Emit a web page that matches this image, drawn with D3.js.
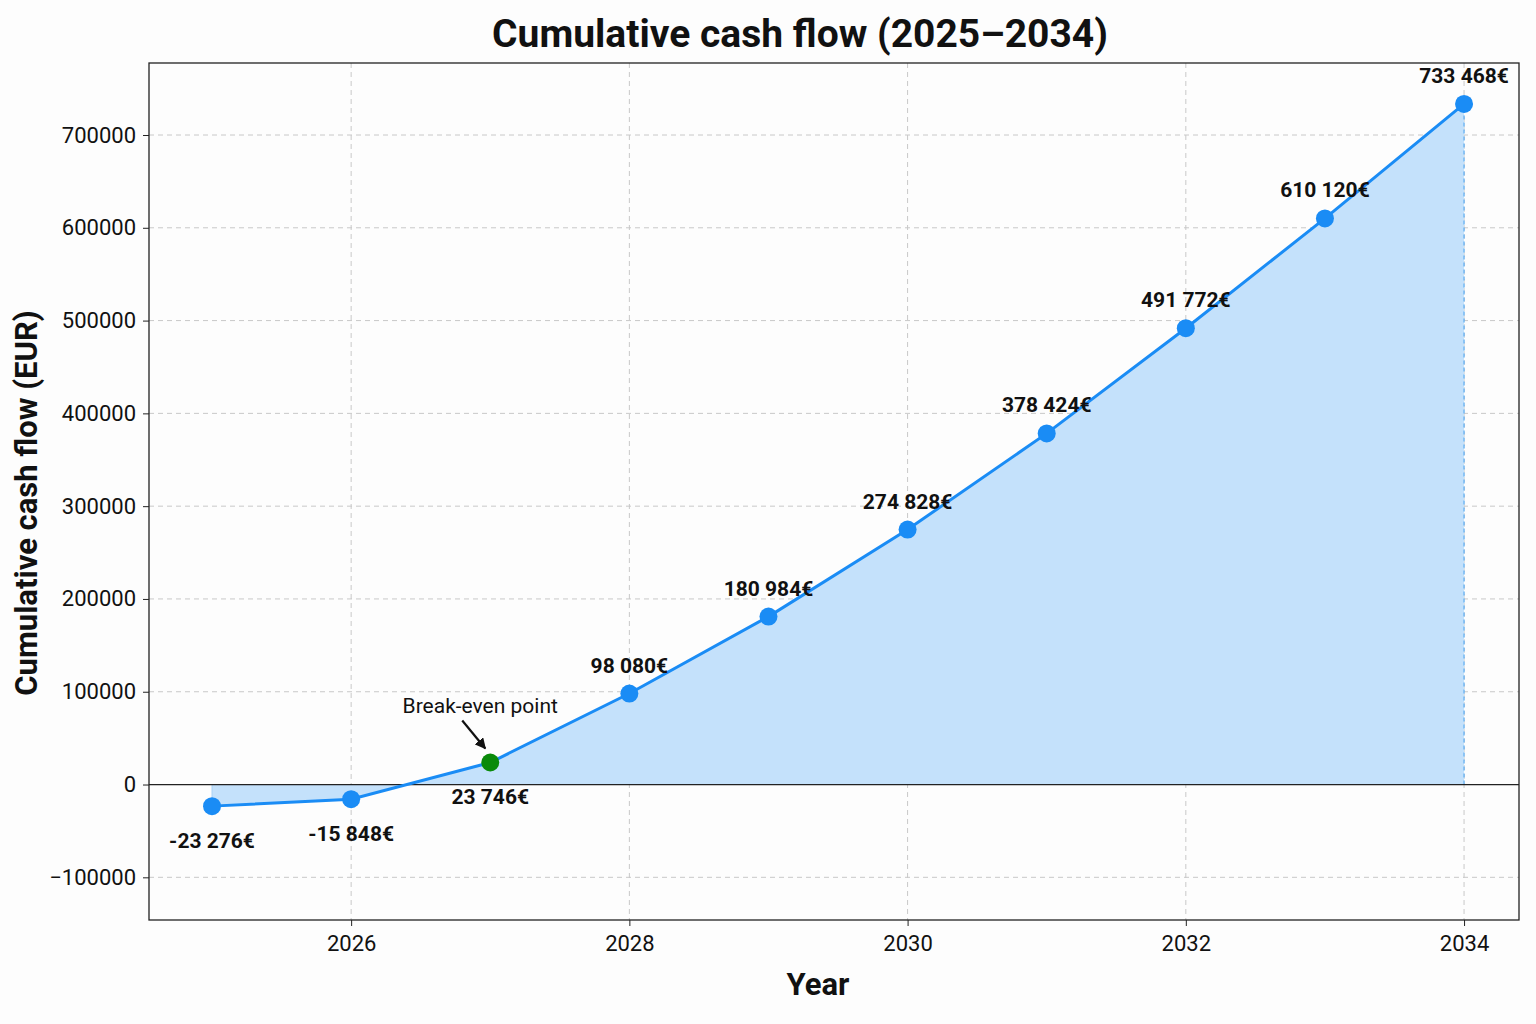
<!DOCTYPE html>
<html>
<head>
<meta charset="utf-8">
<script src="https://cdn.jsdelivr.net/npm/d3@7"></script>
<style>
  body { margin: 0; background: #fdfdfd; }
  text { font-family: Roboto, "DejaVu Sans", sans-serif; }
</style>
</head>
<body>
<svg id="chart"></svg>
<script>
// data
const years = [2025, 2026, 2027, 2028, 2029, 2030, 2031, 2032, 2033, 2034];
const cumulative = [-23276, -15848, 23746, 98080, 180984, 274828, 378424, 491772, 610120, 733468];
const labels = ["-23 276€", "-15 848€", "23 746€", "98 080€", "180 984€", "274 828€", "378 424€", "491 772€", "610 120€", "733 468€"];
const xTicks = [2026, 2028, 2030, 2032, 2034];
const yTicks = [-100000, 0, 100000, 200000, 300000, 400000, 500000, 600000, 700000];
const breakEvenYear = 2027;

const W = 1536, H = 1024;
const margin = { top: 63, right: 17, bottom: 104, left: 149 };
const width = W - margin.left - margin.right;
const height = H - margin.top - margin.bottom;

const svg = d3.select("#chart").attr("width", W).attr("height", H);

const chart = svg.append("g")
  .attr("transform", `translate(${margin.left}, ${margin.top})`);

const x = d3.scaleLinear().domain([2024.547, 2034.395]).range([0, width]);
const y = d3.scaleLinear().domain([-146000, 777600]).range([height, 0]);

const data = years.map((yr, i) => ({ year: yr, value: cumulative[i], label: labels[i] }));

// grid
chart.append("g")
  .selectAll("line")
  .data(yTicks)
  .enter().append("line")
  .attr("x1", 0).attr("x2", width)
  .attr("y1", d => y(d)).attr("y2", d => y(d))
  .attr("stroke", "#c8c8c8").attr("stroke-dasharray", "5,4").attr("stroke-width", 1);

chart.append("g")
  .selectAll("line")
  .data(xTicks)
  .enter().append("line")
  .attr("y1", 0).attr("y2", height)
  .attr("x1", d => x(d)).attr("x2", d => x(d))
  .attr("stroke", "#c8c8c8").attr("stroke-dasharray", "5,4").attr("stroke-width", 1);

// area
const area = d3.area()
  .x(d => x(d.year))
  .y0(y(0))
  .y1(d => y(d.value));

chart.append("path")
  .datum(data)
  .attr("d", area)
  .attr("fill", "#c4e1fb");

// dashed edges of the fill
chart.append("line")
  .attr("x1", x(years[years.length - 1])).attr("x2", x(years[years.length - 1]))
  .attr("y1", y(0)).attr("y2", y(cumulative[cumulative.length - 1]))
  .attr("stroke", "#5aaaf0").attr("stroke-dasharray", "4,3").attr("stroke-width", 1.2);
chart.append("line")
  .attr("x1", x(years[0])).attr("x2", x(years[0]))
  .attr("y1", y(0)).attr("y2", y(cumulative[0]))
  .attr("stroke", "#a9d2f7").attr("stroke-width", 1);

// zero line
chart.append("line")
  .attr("x1", 0).attr("x2", width)
  .attr("y1", y(0)).attr("y2", y(0))
  .attr("stroke", "#222").attr("stroke-width", 1.3);

// line
const line = d3.line()
  .x(d => x(d.year))
  .y(d => y(d.value));

chart.append("path")
  .datum(data)
  .attr("d", line)
  .attr("fill", "none")
  .attr("stroke", "#1a8cf5")
  .attr("stroke-width", 3);

// points
chart.selectAll(".pt")
  .data(data)
  .enter().append("circle")
  .attr("class", "pt")
  .attr("cx", d => x(d.year))
  .attr("cy", d => y(d.value))
  .attr("r", 9)
  .attr("fill", d => d.year === breakEvenYear ? "#0a8a0a" : "#1a8cf5");

// value labels
chart.selectAll(".val")
  .data(data)
  .enter().append("text")
  .attr("class", "val")
  .attr("x", d => x(d.year))
  .attr("y", d => (d.value < 0 || d.year === breakEvenYear) ? y(d.value) + 42 : y(d.value) - 21)
  .attr("text-anchor", "middle")
  .attr("font-size", 21)
  .attr("font-weight", "bold")
  .attr("fill", "#111")
  .text(d => d.label);

// break-even annotation
const be = data.find(d => d.year === breakEvenYear);
svg.append("defs").append("marker")
  .attr("id", "arrow")
  .attr("viewBox", "0 0 10 10")
  .attr("refX", 9).attr("refY", 5)
  .attr("markerWidth", 5).attr("markerHeight", 5)
  .attr("orient", "auto")
  .append("path").attr("d", "M0,0 L10,5 L0,10 z").attr("fill", "#111");

chart.append("line")
  .attr("x1", x(be.year) - 28).attr("y1", y(be.value) - 42)
  .attr("x2", x(be.year) - 5).attr("y2", y(be.value) - 14)
  .attr("stroke", "#111").attr("stroke-width", 2.2)
  .attr("marker-end", "url(#arrow)");

chart.append("text")
  .attr("x", x(be.year) - 10)
  .attr("y", y(be.value) - 49)
  .attr("text-anchor", "middle")
  .attr("font-size", 21)
  .attr("fill", "#111")
  .text("Break-even point");

// axes
const xAxis = chart.append("g")
  .attr("transform", `translate(0, ${height})`)
  .call(d3.axisBottom(x).tickValues(xTicks).tickFormat(d3.format("d")).tickSizeOuter(0).tickSize(6).tickPadding(9));
const yAxis = chart.append("g")
  .call(d3.axisLeft(y).tickValues(yTicks).tickFormat(d => d < 0 ? "\u2212" + Math.abs(d) : d).tickSizeOuter(0).tickSize(6).tickPadding(7));

[xAxis, yAxis].forEach(a => {
  a.selectAll("text").attr("font-size", 22).attr("fill", "#111").style("font-family", "Roboto, sans-serif");
  a.selectAll("line").attr("stroke", "#222");
  a.select(".domain").remove();
});

// frame
chart.append("rect")
  .attr("width", width).attr("height", height)
  .attr("fill", "none").attr("stroke", "#222").attr("stroke-width", 1.3);

// titles
svg.append("text")
  .attr("x", 800).attr("y", 47)
  .attr("text-anchor", "middle")
  .attr("font-size", 39).attr("font-weight", "bold").attr("fill", "#111")
  .text("Cumulative cash flow (2025\u20132034)");

svg.append("text")
  .attr("x", 818).attr("y", 995)
  .attr("text-anchor", "middle")
  .attr("font-size", 31).attr("font-weight", "bold").attr("fill", "#111")
  .text("Year");

svg.append("text")
  .attr("transform", `translate(37, 503) rotate(-90)`)
  .attr("text-anchor", "middle")
  .attr("font-size", 31).attr("font-weight", "bold").attr("fill", "#111")
  .text("Cumulative cash flow (EUR)");
</script>
</body>
</html>
